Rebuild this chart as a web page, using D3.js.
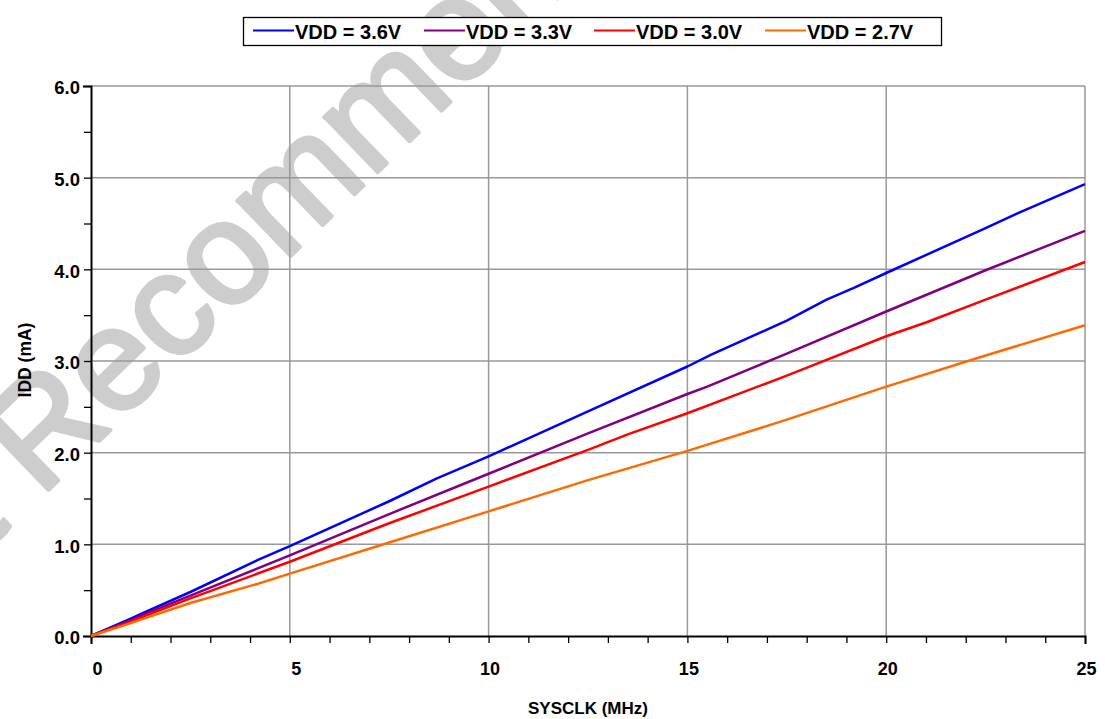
<!DOCTYPE html>
<html><head><meta charset="utf-8">
<script src="https://cdn.jsdelivr.net/npm/d3@7/dist/d3.min.js"></script>
<style>
body{margin:0;background:#fff}
svg text{font-family:"Liberation Sans",Arial,sans-serif;font-weight:bold;fill:#000}
</style>
</head><body>
<svg id="chart" width="1105" height="719"></svg>
<script>
// ---- data ----
const seriesNames = ["VDD = 3.6V", "VDD = 3.3V", "VDD = 3.0V", "VDD = 2.7V"];
const seriesColors = ["#0000ff", "#800080", "#ff0000", "#ff6a00"];
const vdd36X = [0, 1, 1.3, 2.5, 4.2, 5, 7.5, 8.7, 10, 12.5, 15, 15.6, 17.5, 18.5, 19.2, 20, 22.5, 23.3, 25];
const vdd36Y = [0, 0.19, 0.25, 0.48, 0.83, 0.98, 1.47, 1.72, 1.96, 2.45, 2.94, 3.07, 3.44, 3.67, 3.80, 3.96, 4.45, 4.61, 4.93];
const vdd33X = [0, 1, 1.3, 2.5, 5, 7.5, 10, 12.5, 15, 15.5, 17.5, 20, 22.5, 25];
const vdd33Y = [0, 0.17, 0.23, 0.44, 0.88, 1.33, 1.77, 2.21, 2.64, 2.72, 3.08, 3.54, 3.99, 4.42];
const vdd30X = [0, 1, 1.3, 2.5, 5, 7.5, 10, 12.5, 13.5, 15, 17.5, 20, 21, 22.5, 25];
const vdd30Y = [0, 0.16, 0.21, 0.41, 0.81, 1.23, 1.63, 2.03, 2.20, 2.43, 2.84, 3.27, 3.42, 3.67, 4.08];
const vdd27X = [0, 1, 1.4, 2.5, 4.2, 5, 7.5, 10, 12.5, 15, 17.5, 20, 22.5, 25];
const vdd27Y = [0, 0.14, 0.20, 0.36, 0.57, 0.68, 1.02, 1.36, 1.70, 2.02, 2.36, 2.72, 3.06, 3.39];
const xTicks = [0, 5, 10, 15, 20, 25];
const yTicks = [0, 1, 2, 3, 4, 5, 6];
const xLabel = "SYSCLK (MHz)";
const yLabel = "IDD (mA)";
const watermarkText = "Recommended for New Designs";
const watermarkLead = "Not";

const seriesX = [vdd36X, vdd33X, vdd30X, vdd27X];
const seriesY = [vdd36Y, vdd33Y, vdd30Y, vdd27Y];

// ---- layout ----
const svg = d3.select("#chart");
const L = 91, R = 1085, T = 86, B = 636;
const x = d3.scaleLinear().domain([0, 25]).range([L, R]);
const y = d3.scaleLinear().domain([0, 6]).range([B, T]);

// watermark
const wm = svg.append("g").attr("transform", "translate(40,498) rotate(-44)");
[watermarkText, watermarkLead].forEach((t, i) => {
  wm.append("text").attr("x", i === 0 ? 0 : -40).attr("y", 0)
    .attr("text-anchor", i === 0 ? "start" : "end")
    .style("font-size", "145px").style("font-weight", "normal")
    .style("fill", "#cdcdcd").style("stroke", "#cdcdcd").style("stroke-width", 4)
    .style("stroke-linejoin", "round").text(t);
});

// grid
const grid = svg.append("g");
grid.selectAll("line.v").data(xTicks.filter(d => d > 0)).join("line")
  .attr("x1", d => x(d)).attr("x2", d => x(d)).attr("y1", y(6)).attr("y2", y(0))
  .attr("stroke", "#999").attr("stroke-width", 1.5);
grid.selectAll("line.h").data(yTicks.filter(d => d > 0)).join("line")
  .attr("x1", x(0)).attr("x2", x(25)).attr("y1", d => y(d)).attr("y2", d => y(d))
  .attr("stroke", "#999").attr("stroke-width", 1.5);

// axes
const yAxis = d3.axisLeft(y).tickValues(d3.range(0, 6.001, 0.5)).tickSize(7).tickPadding(4)
  .tickFormat(d => yTicks.includes(d) ? d.toFixed(1) : "");
const gy = svg.append("g").attr("transform", `translate(${L},0)`).call(yAxis);
gy.select(".domain").attr("stroke", "#000").attr("stroke-width", 2);
gy.selectAll(".tick line").attr("stroke", "#000").attr("stroke-width", 1.3);
gy.selectAll(".tick text").style("font-size", "18.5px").attr("dy", "0.43em").attr("font-family", null);

const xAxis = d3.axisBottom(x).tickValues(d3.range(0, 25.001, 1)).tickSize(7)
  .tickFormat(d => xTicks.includes(d) ? String(d) : "");
const gx = svg.append("g").attr("transform", `translate(0,${B})`).call(xAxis);
gx.select(".domain").attr("stroke", "#000").attr("stroke-width", 2);
gx.selectAll(".tick line").attr("stroke", "#000").attr("stroke-width", 1.3);
gx.selectAll(".tick text").style("font-size", "18px").attr("text-anchor", "end")
  .attr("x", 11).attr("y", 39).attr("dy", 0).attr("font-family", null);
svg.selectAll(".domain").attr("stroke-linecap", "square");

// axis titles
svg.append("text").attr("x", 588).attr("y", 714).attr("text-anchor", "middle").style("font-size", "17px").text(xLabel);
svg.append("text").attr("transform", "translate(31,360) rotate(-90)").attr("text-anchor", "middle")
  .style("font-size", "17.5px").text(yLabel);

// lines
const line = d3.line().x(d => x(d[0])).y(d => y(d[1]));
seriesNames.forEach((name, i) => {
  const pts = seriesX[i].map((v, j) => [v, seriesY[i][j]]);
  svg.append("path").datum(pts).attr("d", line).attr("fill", "none")
    .attr("stroke", seriesColors[i]).attr("stroke-width", 2.5).attr("stroke-linejoin", "round");
});

// legend
const lg = svg.append("g");
lg.append("rect").attr("x", 243.5).attr("y", 17.5).attr("width", 698).attr("height", 28)
  .attr("fill", "#fff").attr("stroke", "#000").attr("stroke-width", 1.3);
const itemX = [253, 424, 594, 765];
seriesNames.forEach((name, i) => {
  lg.append("line").attr("x1", itemX[i]).attr("x2", itemX[i] + 41).attr("y1", 30.5).attr("y2", 30.5)
    .attr("stroke", seriesColors[i]).attr("stroke-width", 2.2);
  lg.append("text").attr("x", itemX[i] + 42).attr("y", 39).style("font-size", "20px").text(name);
});
</script>
</body></html>
